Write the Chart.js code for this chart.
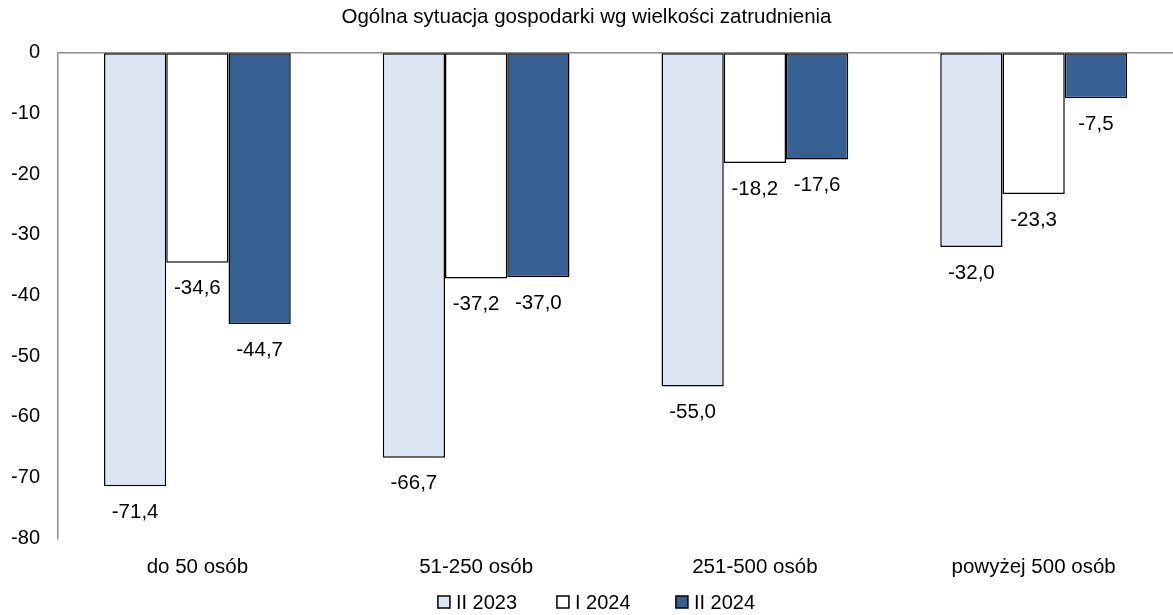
<!DOCTYPE html>
<html lang="pl">
<head>
<meta charset="utf-8">
<script src="https://cdn.jsdelivr.net/npm/chart.js@4.4.1/dist/chart.umd.min.js"></script>
<style>
  html, body { margin: 0; padding: 0; background: #fff; }
  #wrap { width: 1173px; height: 615px; }
</style>
</head>
<body>
<div id="wrap"><canvas id="ourBars"></canvas></div>
<script>
let categories = ['do 50 osób', '51-250 osób', '251-500 osób', 'powyżej 500 osób'];
let seriesNames = ['II 2023', 'I 2024', 'II 2024'];
let ii2023 = [-71.4, -66.7, -55.0, -32.0];
let i2024 = [-34.6, -37.2, -18.2, -23.3];
let ii2024 = [-44.7, -37.0, -17.6, -7.5];
let yTicks = [0, -10, -20, -30, -40, -50, -60, -70, -80];

let fontFamily = "'Liberation Sans', Arial, sans-serif";

// values written under the end of every bar, polish decimal comma
let valueLabels = {
    id: 'valueLabels',
    afterDatasetsDraw(chart) {
        let ctx = chart.ctx;
        ctx.save();
        ctx.font = '20.5px ' + fontFamily;
        ctx.fillStyle = '#000';
        ctx.textAlign = 'center';
        ctx.textBaseline = 'middle';
        chart.data.datasets.forEach((ds, i) => {
            chart.getDatasetMeta(i).data.forEach((bar, j) => {
                let v = ds.data[j];
                ctx.fillText(v.toFixed(1).replace('.', ','), bar.x, bar.y + 26);
            });
        });
        ctx.restore();
    }
};

// legend row under the axis: small square + series name, fixed step per item
let bottomLegend = {
    id: 'bottomLegend',
    afterDraw(chart) {
        let ctx = chart.ctx;
        let box = 12, gap = 6, step = 119;
        ctx.save();
        ctx.font = '20px ' + fontFamily;
        ctx.textBaseline = 'middle';
        ctx.textAlign = 'left';
        let items = chart.data.datasets;
        let lastW = box + gap + ctx.measureText(items[items.length - 1].label).width;
        let total = step * (items.length - 1) + lastW;
        let x = chart.width / 2 + 10 - total / 2;
        let y = 602;
        items.forEach(ds => {
            ctx.fillStyle = ds.backgroundColor;
            ctx.fillRect(x, y - box / 2, box, box);
            ctx.strokeStyle = '#000';
            ctx.lineWidth = 1.5;
            ctx.strokeRect(x, y - box / 2, box, box);
            ctx.fillStyle = '#000';
            ctx.fillText(ds.label, x + box + gap, y + 1);
            x += step;
        });
        ctx.restore();
    }
};

new Chart(document.getElementById('ourBars'), {
    type: 'bar',
    data: {
        labels: categories,
        datasets: [
            {
                label: seriesNames[0],
                data: ii2023,
                backgroundColor: '#dce6f2',
                borderColor: '#000',
                borderWidth: 1.5,
                borderSkipped: false
            },
            {
                label: seriesNames[1],
                data: i2024,
                backgroundColor: '#ffffff',
                borderColor: '#000',
                borderWidth: 1.5,
                borderSkipped: false
            },
            {
                label: seriesNames[2],
                data: ii2024,
                backgroundColor: '#376092',
                borderColor: '#000',
                borderWidth: 1.5,
                borderSkipped: false
            }
        ]
    },
    plugins: [valueLabels, bottomLegend],
    options: {
        responsive: true,
        maintainAspectRatio: false,
        animation: false,
        datasets: {
            bar: { categoryPercentage: 0.67, barPercentage: 1.0 }
        },
        layout: { padding: { left: 0, right: 0, top: 0, bottom: 26 } },
        plugins: {
            title: {
                display: true,
                text: 'Ogólna sytuacja gospodarki wg wielkości zatrudnienia',
                color: '#000',
                font: { family: fontFamily, size: 20.5, weight: 'normal' },
                padding: { top: 5, bottom: 23 }
            },
            legend: { display: false },
            tooltip: { enabled: false }
        },
        scales: {
            x: {
                grid: { display: false },
                border: { display: false },
                ticks: {
                    color: '#000',
                    font: { family: fontFamily, size: 20.5 },
                    padding: 9,
                    maxRotation: 0
                }
            },
            y: {
                min: -80,
                max: 0,
                afterBuildTicks(scale) {
                    scale.ticks = yTicks.map(v => ({ value: v }));
                },
                afterFit(scale) {
                    scale.width = 58;
                },
                grid: {
                    drawTicks: false,
                    color: c => c.tick && c.tick.value === 0 ? '#8c8c8c' : 'rgba(0,0,0,0)',
                    lineWidth: 1.5
                },
                border: { display: true, color: '#8c8c8c', width: 1.5 },
                ticks: {
                    color: '#000',
                    font: { family: fontFamily, size: 20 },
                    padding: 18
                }
            }
        }
    }
});
</script>
</body>
</html>
